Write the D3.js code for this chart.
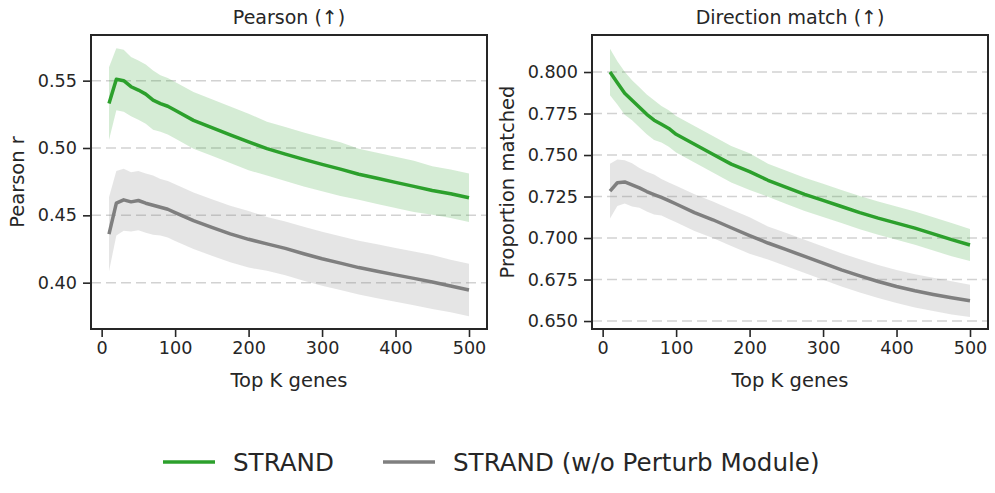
<!DOCTYPE html>
<html>
<head>
<meta charset="utf-8">
<script src="https://cdn.jsdelivr.net/npm/d3@7"></script>
<style>
    body { margin: 0; background: #fff; }
    svg { font-family: "DejaVu Sans", sans-serif; }
</style>
</head>
<body>
<svg id="chart" width="995" height="493"></svg>
<script>
// top K values shared by both panels
const topK = [10, 20, 30, 40, 50, 60, 70, 80, 90, 100, 125, 150, 175, 200, 225, 250, 275, 300, 325, 350, 375, 400, 425, 450, 475, 500];

// Pearson r
const pearsonStrand = [0.533, 0.551, 0.550, 0.5455, 0.543, 0.540, 0.5355, 0.533, 0.531, 0.528, 0.5205, 0.5152, 0.5098, 0.5045, 0.4995, 0.4955, 0.4915, 0.4878, 0.4843, 0.4805, 0.4775, 0.4745, 0.4715, 0.4685, 0.466, 0.463];
const pearsonStrandCi = [0.027, 0.023, 0.023, 0.022, 0.022, 0.022, 0.022, 0.021, 0.021, 0.021, 0.021, 0.021, 0.021, 0.021, 0.020, 0.020, 0.020, 0.020, 0.020, 0.019, 0.019, 0.019, 0.019, 0.018, 0.018, 0.018];
const pearsonNoPerturb = [0.436, 0.459, 0.4615, 0.460, 0.461, 0.459, 0.4575, 0.456, 0.4545, 0.452, 0.446, 0.441, 0.4362, 0.4322, 0.4288, 0.4255, 0.4215, 0.4178, 0.4145, 0.4112, 0.4085, 0.4058, 0.4032, 0.4005, 0.3975, 0.3945];
const pearsonNoPerturbCi = [0.0275, 0.024, 0.023, 0.022, 0.022, 0.022, 0.022, 0.021, 0.021, 0.021, 0.021, 0.021, 0.021, 0.021, 0.020, 0.020, 0.020, 0.020, 0.020, 0.020, 0.020, 0.020, 0.020, 0.020, 0.0195, 0.0195];

// direction match
const directionStrand = [0.800, 0.7935, 0.7872, 0.783, 0.7788, 0.7745, 0.771, 0.7685, 0.766, 0.7625, 0.7565, 0.7505, 0.7445, 0.740, 0.7348, 0.7305, 0.7263, 0.7227, 0.719, 0.7153, 0.712, 0.709, 0.706, 0.7025, 0.699, 0.6958];
const directionStrandCi = [0.014, 0.013, 0.013, 0.012, 0.012, 0.012, 0.012, 0.011, 0.011, 0.011, 0.011, 0.011, 0.011, 0.011, 0.010, 0.010, 0.010, 0.010, 0.010, 0.010, 0.010, 0.010, 0.010, 0.010, 0.010, 0.0097];
const directionNoPerturb = [0.7283, 0.7333, 0.7338, 0.732, 0.7302, 0.728, 0.7262, 0.7245, 0.7225, 0.7205, 0.7153, 0.711, 0.7062, 0.7015, 0.697, 0.693, 0.6889, 0.6849, 0.6808, 0.6772, 0.6738, 0.6708, 0.6682, 0.666, 0.664, 0.6622];
const directionNoPerturbCi = [0.0165, 0.014, 0.013, 0.013, 0.012, 0.012, 0.012, 0.011, 0.011, 0.011, 0.011, 0.011, 0.011, 0.011, 0.010, 0.010, 0.010, 0.010, 0.010, 0.010, 0.010, 0.010, 0.010, 0.010, 0.010, 0.0097];

const xTicks = [0, 100, 200, 300, 400, 500];
const pearsonTicks = [0.40, 0.45, 0.50, 0.55];
const directionTicks = [0.650, 0.675, 0.700, 0.725, 0.750, 0.775, 0.800];

const seriesNames = ["STRAND", "STRAND (w/o Perturb Module)"];
const seriesColors = ["#2ca02c", "#7f7f7f"];

const textColor = "#262626";
const svg = d3.select("#chart");

function drawPanel(opts) {
    const g = svg.append("g");
    const x = d3.scaleLinear().domain([-14.5, 524.5]).range([opts.left, opts.right]);
    const y = d3.scaleLinear().domain(opts.yDomain).range([opts.bottom, opts.top]);

    // dashed horizontal grid
    g.selectAll(".grid")
        .data(opts.yTicks)
        .enter()
        .append("line")
        .attr("x1", opts.left)
        .attr("x2", opts.right)
        .attr("y1", d => y(d))
        .attr("y2", d => y(d))
        .attr("stroke", "#d2d2d2")
        .attr("stroke-width", 1.5)
        .attr("stroke-dasharray", "10,5");

    const area = d3.area()
        .x(d => x(d.k))
        .y0(d => y(d.v - d.ci))
        .y1(d => y(d.v + d.ci));

    const line = d3.line()
        .x(d => x(d.k))
        .y(d => y(d.v));

    opts.series.forEach((s, i) => {
        const pts = topK.map((k, j) => ({ k: k, v: s.mean[j], ci: s.ci[j] }));
        g.append("path")
            .attr("d", area(pts))
            .attr("fill", seriesColors[i])
            .attr("fill-opacity", 0.2)
            .attr("stroke", "none");
        s.pts = pts;
    });

    opts.series.forEach((s, i) => {
        g.append("path")
            .attr("d", line(s.pts))
            .attr("fill", "none")
            .attr("stroke", seriesColors[i])
            .attr("stroke-width", 3.5)
            .attr("stroke-linejoin", "round")
            .attr("stroke-linecap", "butt");
    });

    // axes
    const xAxis = g.append("g")
        .attr("transform", `translate(0,${opts.bottom})`)
        .call(d3.axisBottom(x).tickValues(xTicks).tickSize(8).tickPadding(5));
    const yAxis = g.append("g")
        .attr("transform", `translate(${opts.left},0)`)
        .call(d3.axisLeft(y).tickValues(opts.yTicks).tickFormat(d3.format(opts.fmt)).tickSize(8).tickPadding(6));

    [xAxis, yAxis].forEach(a => {
        a.select(".domain").remove();
        a.selectAll(".tick line").attr("stroke", textColor).attr("stroke-width", 1.6);
        a.selectAll(".tick text")
            .attr("fill", textColor)
            .style("font-size", "17.6px")
            .style("font-family", "DejaVu Sans");
    });

    // frame
    g.append("rect")
        .attr("x", opts.left)
        .attr("y", opts.top)
        .attr("width", opts.right - opts.left)
        .attr("height", opts.bottom - opts.top)
        .attr("fill", "none")
        .attr("stroke", textColor)
        .attr("stroke-width", 2);

    const cx = (opts.left + opts.right) / 2;
    g.append("text")
        .attr("x", cx)
        .attr("y", 24)
        .attr("text-anchor", "middle")
        .attr("fill", textColor)
        .style("font-size", "19px")
        .text(opts.title);

    g.append("text")
        .attr("x", cx)
        .attr("y", 387)
        .attr("text-anchor", "middle")
        .attr("fill", textColor)
        .style("font-size", "19.5px")
        .text("Top K genes");

    g.append("text")
        .attr("transform", `translate(${opts.yLabelX},${(opts.top + opts.bottom) / 2}) rotate(-90)`)
        .attr("text-anchor", "middle")
        .attr("fill", textColor)
        .style("font-size", "19.5px")
        .text(opts.yLabel);
}

drawPanel({
    left: 91, right: 487, top: 35, bottom: 329,
    yDomain: [0.3656, 0.5839],
    yTicks: pearsonTicks, fmt: ".2f",
    title: "Pearson (\u2191)", yLabel: "Pearson r", yLabelX: 24,
    series: [
        { mean: pearsonStrand, ci: pearsonStrandCi },
        { mean: pearsonNoPerturb, ci: pearsonNoPerturbCi }
    ]
});

drawPanel({
    left: 592, right: 988, top: 35, bottom: 329,
    yDomain: [0.6452, 0.8223],
    yTicks: directionTicks, fmt: ".3f",
    title: "Direction match (\u2191)", yLabel: "Proportion matched", yLabelX: 514,
    series: [
        { mean: directionStrand, ci: directionStrandCi },
        { mean: directionNoPerturb, ci: directionNoPerturbCi }
    ]
});

// legend
const legendX = [163, 383];
const legend = svg.append("g");
seriesNames.forEach((name, i) => {
    legend.append("line")
        .attr("x1", legendX[i])
        .attr("x2", legendX[i] + 52)
        .attr("y1", 462)
        .attr("y2", 462)
        .attr("stroke", seriesColors[i])
        .attr("stroke-width", 3.5);
    legend.append("text")
        .attr("x", legendX[i] + 70)
        .attr("y", 462)
        .attr("dy", "0.35em")
        .attr("fill", textColor)
        .style("font-size", "24.6px")
        .text(name);
});
</script>
</body>
</html>
